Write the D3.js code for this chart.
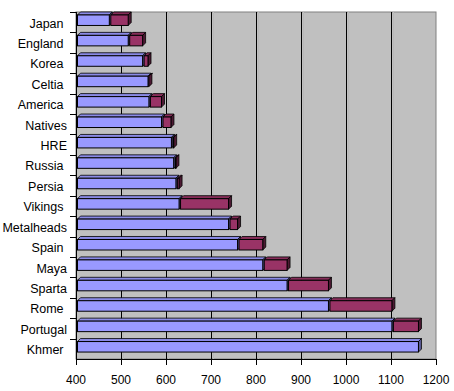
<!DOCTYPE html>
<html>
<head>
<meta charset="utf-8">
<script src="https://cdn.jsdelivr.net/npm/d3@7"></script>
<style>
  body { margin: 0; background: #fff; }
  svg text { font-family: "Liberation Sans", Arial, sans-serif; font-size: 12px; fill: #000; }
  svg text.catLabel { font-size: 12.5px; white-space: pre; }
</style>
</head>
<body>
<div id="chartDiv"></div>
<script>

// Data, top to bottom.
// Some names carry a trailing space, as the original labels do.
var categories = ["Japan ", "England ", "Korea ", "Celtia ", "America ", "Natives", "HRE",
                  "Russia ", "Persia ", "Vikings ", "Metalheads", "Spain ", "Maya",
                  "Sparta", "Rome ", "Portugal", "Khmer "];
var baseValues  = [474, 516, 548, 560, 562, 590, 612, 617, 622, 629, 739, 759, 815, 869, 961, 1102, 1161];
var addedValues = [42, 32, 12, 2, 28, 21, 5, 5, 7, 110, 20, 56, 54, 92, 141, 59, 0];
var xTicks      = [400, 500, 600, 700, 800, 900, 1000, 1100, 1200];

// Constants
var WIDTH  = 454;
var HEIGHT = 391;
var PLOT_LEFT   = 76;
var PLOT_RIGHT  = 436;
var PLOT_TOP    = 12;
var PLOT_BOTTOM = 359;
var DEPTH       = 3;    // 3D offset of bar top and side faces
var BAR_H       = 10.5; // height of bar front face

var COLORS = {
	base:  { front: "#9999ff", top: "#8a8ae6", side: "#5c5c99" },
	added: { front: "#993366", top: "#862d59", side: "#4d1a33" }
};

var svg = d3.select("#chartDiv").append("svg")
	.attr("width", WIDTH)
	.attr("height", HEIGHT);

var x = d3.scaleLinear()
	.domain([400, 1200])
	.range([PLOT_LEFT, PLOT_RIGHT]);

var y = d3.scaleBand()
	.domain(categories)
	.range([PLOT_TOP, PLOT_BOTTOM]);

// Back wall
svg.append("rect")
	.attr("x", PLOT_LEFT)
	.attr("y", PLOT_TOP)
	.attr("width", PLOT_RIGHT - PLOT_LEFT)
	.attr("height", PLOT_BOTTOM - PLOT_TOP)
	.attr("fill", "#c0c0c0")
	.attr("stroke", "#808080")
	.attr("stroke-width", 1);

// Gridlines (with the faint 3D echo next to each)
var inner = xTicks.filter(function(t) { return t > 400 && t < 1200; });
svg.selectAll(".gridEcho")
	.data(inner)
	.enter().append("line")
	  .attr("class", "gridEcho")
	  .attr("x1", function(d) { return Math.round(x(d)) + 2.5; })
	  .attr("x2", function(d) { return Math.round(x(d)) + 2.5; })
	  .attr("y1", PLOT_TOP)
	  .attr("y2", PLOT_BOTTOM)
	  .attr("stroke", "#b9b9b9");
svg.selectAll(".grid")
	.data(inner)
	.enter().append("line")
	  .attr("class", "grid")
	  .attr("x1", function(d) { return Math.round(x(d)) + 0.5; })
	  .attr("x2", function(d) { return Math.round(x(d)) + 0.5; })
	  .attr("y1", PLOT_TOP)
	  .attr("y2", PLOT_BOTTOM)
	  .attr("stroke", "#000");

// Build segments: one for the base part, one for the added part
var segments = [];
categories.forEach(function(c, i) {
	segments.push({ cat: c, from: 400, to: baseValues[i], kind: "base" });
	if (addedValues[i] > 0) {
		segments.push({ cat: c, from: baseValues[i], to: baseValues[i] + addedValues[i], kind: "added" });
	}
});

var barTop = function(c) {
	return y(c) + y.bandwidth() / 2 - 2 - BAR_H / 2;
};

var bars = svg.append("g").attr("class", "bars");

segments.forEach(function(s) {
	var x0 = x(s.from) + 1.5;
	var x1 = x(s.to);
	var y0 = barTop(s.cat);
	var y1 = y0 + BAR_H;
	var col = COLORS[s.kind];
	var g = bars.append("g");

	// top face
	g.append("path")
	  .attr("d", "M" + x0 + "," + y0 + "L" + (x0 + DEPTH) + "," + (y0 - DEPTH) +
	             "L" + (x1 + DEPTH) + "," + (y0 - DEPTH) + "L" + x1 + "," + y0 + "Z")
	  .attr("fill", col.top)
	  .attr("stroke", "#000")
	  .attr("stroke-width", 0.8)
	  .attr("stroke-linejoin", "round");
	// side face
	g.append("path")
	  .attr("d", "M" + x1 + "," + y0 + "L" + (x1 + DEPTH) + "," + (y0 - DEPTH) +
	             "L" + (x1 + DEPTH) + "," + (y1 - DEPTH) + "L" + x1 + "," + y1 + "Z")
	  .attr("fill", col.side)
	  .attr("stroke", "#000")
	  .attr("stroke-width", 0.8)
	  .attr("stroke-linejoin", "round");
	// front face
	g.append("rect")
	  .attr("x", x0)
	  .attr("y", y0)
	  .attr("width", x1 - x0)
	  .attr("height", BAR_H)
	  .attr("fill", col.front)
	  .attr("stroke", "#000")
	  .attr("stroke-width", 1);
});

// Category axis
var yAxis = svg.append("g").attr("class", "yAxis");
yAxis.append("line")
	.attr("x1", PLOT_LEFT + 0.5).attr("x2", PLOT_LEFT + 0.5)
	.attr("y1", PLOT_TOP).attr("y2", PLOT_BOTTOM + 0.5)
	.attr("stroke", "#000");
yAxis.selectAll(".tickMark")
	.data(categories)
	.enter().append("line")
	  .attr("x1", PLOT_LEFT - 6).attr("x2", PLOT_LEFT)
	  .attr("y1", function(d) { return Math.round(y(d)) + 0.5; })
	  .attr("y2", function(d) { return Math.round(y(d)) + 0.5; })
	  .attr("stroke", "#000");
yAxis.selectAll(".catLabel")
	.data(categories)
	.enter().append("text")
	  .attr("class", "catLabel")
	  .attr("x", PLOT_LEFT - 9)
	  .attr("y", function(d) { return y(d) + y.bandwidth() / 2 + 1; })
	  .attr("dy", "0.35em")
	  .attr("text-anchor", "end")
	  .text(function(d) { return d; });

// Value axis
var xAxis = svg.append("g").attr("class", "xAxis");
xAxis.append("line")
	.attr("x1", PLOT_LEFT).attr("x2", PLOT_RIGHT + 0.5)
	.attr("y1", PLOT_BOTTOM + 0.5).attr("y2", PLOT_BOTTOM + 0.5)
	.attr("stroke", "#000");
xAxis.selectAll(".tickMark")
	.data(xTicks)
	.enter().append("line")
	  .attr("x1", function(d) { return Math.round(x(d)) + 0.5; })
	  .attr("x2", function(d) { return Math.round(x(d)) + 0.5; })
	  .attr("y1", PLOT_BOTTOM)
	  .attr("y2", PLOT_BOTTOM + 6)
	  .attr("stroke", "#000");
xAxis.selectAll(".tickLabel")
	.data(xTicks)
	.enter().append("text")
	  .attr("x", function(d) { return x(d); })
	  .attr("y", PLOT_BOTTOM + 21)
	  .attr("dy", "0.35em")
	  .attr("text-anchor", "middle")
	  .text(function(d) { return d; });

</script>
</body>
</html>
